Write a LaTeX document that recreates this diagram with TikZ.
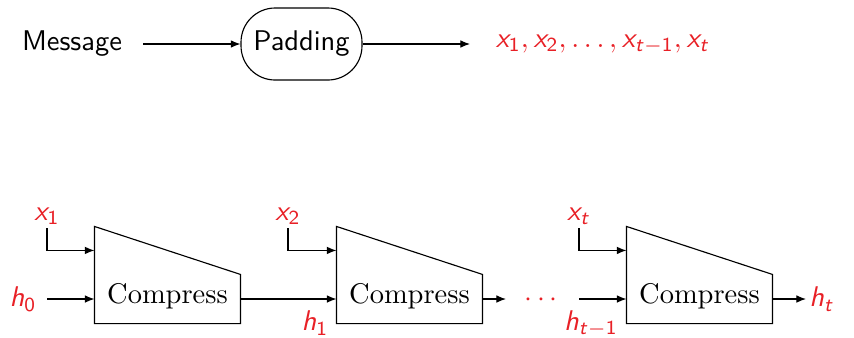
\documentclass[tikz,border=0pt]{standalone}
\usetikzlibrary{arrows.meta,calc}
\DeclareMathAlphabet{\mathsfit}{OT1}{cmss}{m}{sl}
\DeclareMathAlphabet{\mathsfup}{OT1}{cmss}{m}{n}
\definecolor{lred}{RGB}{232,32,38}
\newcommand{\vx}{\mathsfit{x}}
\newcommand{\vh}{\mathsfit{h}}
\newcommand{\vt}{\mathsfit{t}}
\newcommand{\sn}[1]{\mathsfup{#1}}
\begin{document}
\begin{tikzpicture}[x=0.3513pt,y=-0.3513pt,
  arr/.style={-{Latex[length=3.4pt,width=2.7pt]}},
  sflabel/.style={font=\sffamily},
  padbox/.style={draw,rounded corners=12pt,minimum width=42.5pt,minimum height=25.3pt,font=\sffamily,inner sep=1pt},
  cbox/.style={minimum width=50.9pt,minimum height=16.86pt,inner sep=0pt},
  rlab/.style={text=lred,inner sep=1pt}]
\useasboundingbox (0,0) rectangle (854,337);
% top row
\node[sflabel] (msg) at (72,44) {Message};
\node[padbox] (pad) at (301.5,44) {Padding};
\node[rlab] (xs) at (603,44) {$\vx_{\sn1},\vx_{\sn2},\ldots,\vx_{\vt-\sn1},\vx_{\vt}$};
\coordinate (m1) at (143,44);
\coordinate (p1) at (470,44);
\draw[arr] (m1) -- (pad.west);
\draw[arr] (pad.east) -- (p1);
% compress boxes
\foreach \n/\cx in {1/167.5,2/409.5,3/699.5}{
  \node[cbox] (c\n) at (\cx,299) {};
  \node (t\n) at (\cx,296) {Compress};
  \draw (c\n.south west) -- (c\n.south east) -- (c\n.north east)
        -- ($(c\n.north west)+(0,-48)$) -- cycle;
  \coordinate (in\n) at ($(c\n.north west)+(0,-24)$);
}
% labels
\node[rlab,anchor=south] (x1) at (47,228) {$\vx_{\sn1}$};
\node[rlab,anchor=south] (x2) at (288,228) {$\vx_{\sn2}$};
\node[rlab,anchor=south] (x3) at (579,228) {$\vx_{\vt}$};
\node[rlab] (h0) at (23,299) {$\vh_{\sn0}$};
\node[rlab] (h1) at (315,323) {$\vh_{\sn1}$};
\node[rlab] (htm) at (591,324) {$\vh_{\vt-\sn1}$};
\node[rlab,anchor=west] (ht) at (806,299) {$\vh_{\vt}$};
\node[rlab] (dots) at (541,300) {$\cdots$};
% connectors
\draw[arr] (x1.south) |- (in1);
\draw[arr] (x2.south) |- (in2);
\draw[arr] (x3.south) |- (in3);
\coordinate (h0s) at (47,299);
\coordinate (htms) at (579,299);
\coordinate (c2o) at (506,299);
\draw[arr] (h0s) -- (c1.west);
\draw[arr] (c1.east) -- (c2.west);
\draw[arr] (c2.east) -- (c2o);
\draw[arr] (htms) -- (c3.west);
\draw[arr] (c3.east) -- (ht.west);
\end{tikzpicture}
\end{document}
